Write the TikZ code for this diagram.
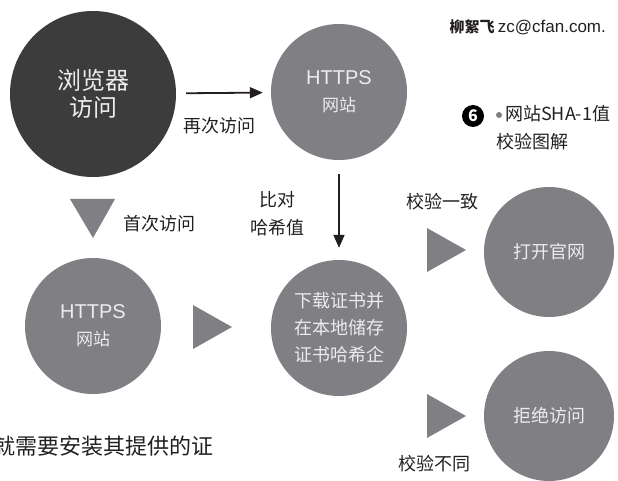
\documentclass[tikz,border=0pt]{standalone}
\usepackage{fontspec}
\setmainfont{Noto Sans CJK SC}
\newfontfamily\latinfont{Liberation Sans}
\usetikzlibrary{arrows.meta}

\definecolor{darkdot}{HTML}{3C3C3C}
\definecolor{greydot}{HTML}{808084}
\definecolor{dottext}{HTML}{ECECEC}
\definecolor{inktext}{HTML}{231F20}

\begin{document}
\begin{tikzpicture}[x=1pt,y=-1pt,
  bigdot/.style={circle, fill=greydot, text=dottext, minimum size=136pt, inner sep=0pt, align=center, font=\fontsize{18}{27}\selectfont},
  flowarrow/.style={-{Triangle[length=13pt,width=11pt]}, line width=1.8pt, inktext},
  pointer/.style={fill=greydot},
  caption/.style={text=inktext, align=center, font=\fontsize{18}{28}\selectfont}]
\useasboundingbox (0,0) rectangle (618,481);

% Header
\node[anchor=west, text=inktext, font=\fontsize{15}{18}\selectfont] (author) at (446,27) {\textbf{柳絮飞} {\latinfont\fontsize{17}{18}\selectfont zc@cfan.com.}};

% Figure caption
\node[circle, fill=black, text=white, inner sep=0pt, minimum size=22pt, font=\bfseries\fontsize{16}{16}\selectfont] (num) at (473,116) {6};
\node[circle, fill=greydot, inner sep=0pt, minimum size=6pt] (bullet) at (499,115) {};
\node[anchor=west, text=inktext, inner sep=0pt, font=\fontsize{18}{22}\selectfont] (title) at (505,114) {网站SHA-1值};
\node[anchor=west, text=inktext, inner sep=0pt, font=\fontsize{18}{22}\selectfont] (title2) at (496,142) {校验图解};

% Circles
\node[bigdot, fill=darkdot, minimum size=166pt, font=\fontsize{24}{27}\selectfont] (browser) at (93,94) {浏览器\\访问};
\node[bigdot, font=\fontsize{17}{27}\selectfont] (siteTop) at (339,92) {{\latinfont\fontsize{20}{20}\selectfont HTTPS}\\网站};
\node[bigdot, font=\fontsize{17}{27}\selectfont] (siteFirst) at (93,326) {{\latinfont\fontsize{20}{20}\selectfont HTTPS}\\网站};
\node[bigdot] (store) at (339,328) {下载证书并\\在本地储存\\证书哈希企};
\node[bigdot, minimum size=130pt] (open) at (549,252) {打开官网};
\node[bigdot, minimum size=130pt] (deny) at (549,416) {拒绝访问};

% Arrows
\draw[flowarrow, shorten <=10pt, shorten >=8pt] (browser) -- (siteTop);
\draw[flowarrow, shorten <=14pt, shorten >=12pt] (siteTop) -- (store);

% Pointers
\fill[pointer] (70,199) -- (115,199) -- (93,238) -- cycle;
\fill[pointer] (193,305) -- (193,349) -- (232,327) -- cycle;
\fill[pointer] (427,228) -- (427,272) -- (466,250) -- cycle;
\fill[pointer] (427,394) -- (427,438) -- (466,416) -- cycle;

% Labels
\node[caption] (again) at (219,126) {再次访问};
\node[caption] (first) at (159,224) {首次访问};
\node[caption] (compare) at (277,214) {比对\\哈希值};
\node[caption] (match) at (442,202) {校验一致};
\node[caption] (differ) at (434,464) {校验不同};

% Body text
\node[anchor=west, text=inktext, inner sep=0pt, font=\fontsize{22}{24}\selectfont] (body) at (-7,446) {就需要安装其提供的证};

\end{tikzpicture}
\end{document}
